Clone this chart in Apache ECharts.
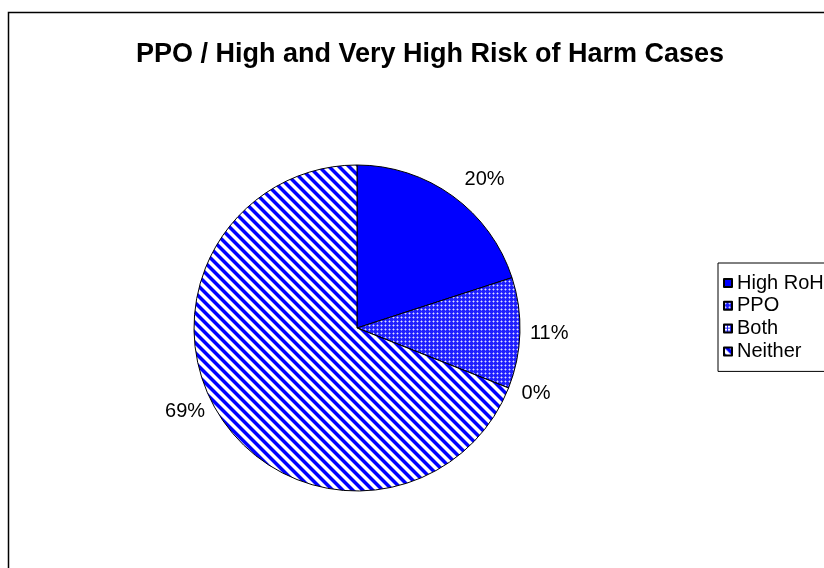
<!DOCTYPE html>
<html>
<head>
<meta charset="utf-8">
<script src="https://cdn.jsdelivr.net/npm/echarts@6/dist/echarts.min.js"></script>
<style>
  html, body { margin: 0; padding: 0; background: #fff; }
  #chart { width: 824px; height: 568px; }
</style>
</head>
<body>
<div id="chart"></div>
<script>
// Share of cases by PPO / risk-of-harm status (percent)
const categories = ['High RoH', 'PPO', 'Both', 'Neither'];
const shares = [20, 11, 0, 69];
const chartTitle = 'PPO / High and Very High Risk of Harm Cases';

// Small canvas tiles used as fill patterns
function makeTile(size, pixelFn) {
  const c = document.createElement('canvas');
  c.width = size; c.height = size;
  const ctx = c.getContext('2d');
  const img = ctx.createImageData(size, size);
  for (let y = 0; y < size; y++) {
    for (let x = 0; x < size; x++) {
      const [r, g, b] = pixelFn(x, y);
      const i = (y * size + x) * 4;
      img.data[i] = r; img.data[i + 1] = g; img.data[i + 2] = b; img.data[i + 3] = 255;
    }
  }
  ctx.putImageData(img, 0, 0);
  return c;
}

// Fine dotted blue
const dotTile = makeTile(4, (x, y) => {
  if (x === 1 && y === 1) return [225, 225, 255];
  if ((x === 1 && (y === 0 || y === 2)) || (y === 1 && (x === 0 || x === 2))) return [120, 120, 255];
  return [30, 30, 255];
});

// Blue grid on white
const gridTile = makeTile(3, (x, y) => {
  if (x === 0 || y === 0) return [40, 40, 255];
  return [255, 255, 255];
});

// Soft diagonal stripes running top-left to bottom-right
const stripeTile = makeTile(10, (x, y) => {
  const p = (((x - y) % 10) + 10) % 10;
  const d = Math.min(Math.abs(p - 2.5), 10 - Math.abs(p - 2.5));
  const t = 1 - Math.max(0, Math.min(1, (d - 1.7) / 1.6));
  const v = Math.round(255 * (1 - t));
  return [v, v, 255];
});

const fills = [
  '#0000ff',
  { image: dotTile, repeat: 'repeat' },
  { image: gridTile, repeat: 'repeat' },
  { image: stripeTile, repeat: 'repeat' }
];

// Per-slice label distance from the rim, and small nudges
const labelLineLengths = [20, 10, 14, 5];
const labelNudges = [{}, {}, {}, { dx: -3, dy: -11 }];

const pieData = categories.map((name, i) => ({
  name: name,
  value: shares[i],
  itemStyle: { color: fills[i] },
  labelLine: { length: labelLineLengths[i], length2: i === 3 ? 10 : 0 }
}));

const baseFont = 'Liberation Sans, Arial, sans-serif';

const chart = echarts.init(document.getElementById('chart'), null, { renderer: 'canvas' });
chart.setOption({
  backgroundColor: '#fff',
  animation: false,
  title: {
    text: chartTitle,
    left: 425,
    textAlign: 'center',
    top: 36,
    textStyle: {
      fontFamily: baseFont,
      fontWeight: 'bold',
      fontSize: 27,
      color: '#000'
    }
  },
  graphic: [{
    type: 'rect',
    shape: { x: 8.5, y: 12.5, width: 900, height: 700 },
    style: { fill: 'none', stroke: '#000', lineWidth: 1.5 },
    silent: true
  }],
  legend: {
    orient: 'vertical',
    left: 718,
    top: 263,
    padding: [10, 60, 10, 5],
    itemWidth: 8,
    itemHeight: 8,
    itemGap: 2.8,
    icon: 'rect',
    borderColor: '#000',
    borderWidth: 1,
    backgroundColor: '#fff',
    textStyle: {
      fontFamily: baseFont,
      fontSize: 20,
      lineHeight: 20,
      color: '#000'
    },
    data: categories
  },
  series: [{
    type: 'pie',
    center: [357, 328],
    radius: 163,
    startAngle: 90,
    clockwise: true,
    avoidLabelOverlap: false,
    data: pieData,
    itemStyle: { borderColor: '#000', borderWidth: 1 },
    emphasis: { disabled: true },
    label: {
      show: true,
      position: 'outside',
      formatter: p => Math.round(p.percent) + '%',
      fontFamily: baseFont,
      fontSize: 20,
      color: '#000',
      distanceToLabelLine: 0
    },
    labelLine: { show: false, length: 20, length2: 0 },
    labelLayout: p => labelNudges[p.dataIndex]
  }]
});
</script>
</body>
</html>
